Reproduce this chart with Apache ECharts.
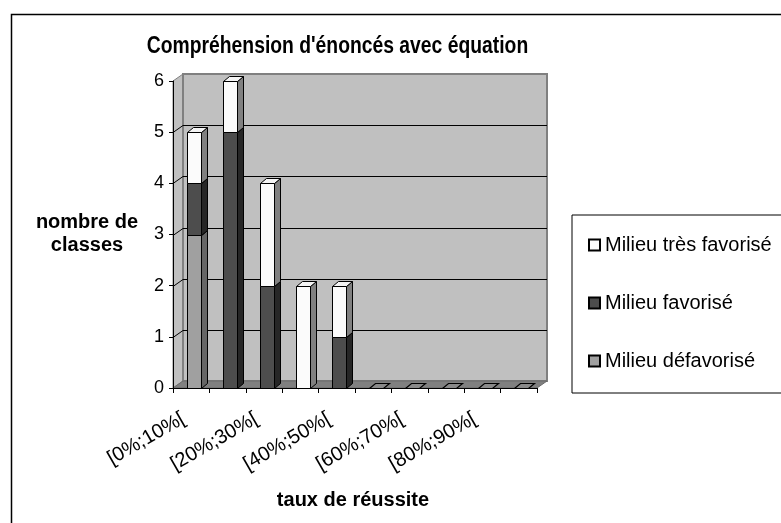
<!DOCTYPE html>
<html>
<head>
<meta charset="utf-8">
<script src="https://cdn.jsdelivr.net/npm/echarts@6/dist/echarts.min.js"></script>
<style>
  html, body { margin: 0; padding: 0; background: #fff; }
  #chart { width: 781px; height: 523px; }
</style>
</head>
<body>
<div id="chart"></div>
<script>
// Tranches de taux de réussite (axe horizontal)
const categories = ['[0%;10%[', '[10%;20%[', '[20%;30%[', '[30%;40%[', '[40%;50%[',
                    '[50%;60%[', '[60%;70%[', '[70%;80%[', '[80%;90%[', '[90%;100%['];
// Nombre de classes par milieu
const milieuDefavorise   = [3, 0, 0, 0, 0, 0, 0, 0, 0, 0];
const milieuFavorise     = [1, 5, 2, 0, 1, 0, 0, 0, 0, 0];
const milieuTresFavorise = [1, 1, 2, 2, 1, 0, 0, 0, 0, 0];
// Graduations de l'axe vertical
const yTicks = [0, 1, 2, 3, 4, 5, 6];

const FONT = 'Liberation Sans, Arial, sans-serif';

// Profondeur des parois et des colonnes (effet 3D)
const WALL_DX = 10, WALL_DY = -7;
const BAR_DX = 6, BAR_DY = -5;

const stackDefs = [
  { name: 'Milieu défavorisé', values: milieuDefavorise, front: '#a0a0a0', side: '#666666', top: '#b4b4b4' },
  { name: 'Milieu favorisé', values: milieuFavorise, front: '#4d4d4d', side: '#262626', top: '#5a5a5a' },
  { name: 'Milieu très favorisé', values: milieuTresFavorise, front: '#fbfbfb', side: '#808080', top: '#f4f4f4' }
];

// Empilement : [catégorie, base, sommet]
const bases = categories.map(() => 0);
const stacked = stackDefs.map(def => {
  const rows = [];
  def.values.forEach((v, i) => {
    if (v > 0) rows.push([i, bases[i], bases[i] + v]);
    bases[i] += v;
  });
  return rows;
});
// Catégories vides : seule la face supérieure apparaît au sol
const emptyCats = bases.map((t, i) => [i, t]).filter(d => d[1] === 0).map(d => [d[0], 0, 0]);

function barGeometry(api) {
  const cat = api.value(0);
  const b = api.coord([cat, api.value(1)]);
  const t = api.coord([cat, api.value(2)]);
  const bw = Math.round(api.size([1, 0])[0] * 0.385);
  const x0 = Math.round(b[0] - bw / 2 + 2.5) + 0.5;
  return { x0, bw, yb: Math.round(b[1]) + 0.5, yt: Math.round(t[1]) + 0.5 };
}

function boxRenderer(def) {
  return function (params, api) {
    const g = barGeometry(api);
    const s = { stroke: '#000', lineWidth: 1, lineJoin: 'miter' };
    return {
      type: 'group',
      children: [
        { type: 'polygon', shape: { points: [[g.x0 + g.bw, g.yt], [g.x0 + g.bw + BAR_DX, g.yt + BAR_DY],
            [g.x0 + g.bw + BAR_DX, g.yb + BAR_DY], [g.x0 + g.bw, g.yb]] },
          style: Object.assign({ fill: def.side }, s) },
        { type: 'polygon', shape: { points: [[g.x0, g.yt], [g.x0 + BAR_DX, g.yt + BAR_DY],
            [g.x0 + g.bw + BAR_DX, g.yt + BAR_DY], [g.x0 + g.bw, g.yt]] },
          style: Object.assign({ fill: def.top }, s) },
        { type: 'rect', shape: { x: g.x0, y: g.yt, width: g.bw, height: g.yb - g.yt },
          style: Object.assign({ fill: def.front }, s) }
      ]
    };
  };
}

function floorMarkRenderer(params, api) {
  const g = barGeometry(api);
  return {
    type: 'polygon',
    shape: { points: [[g.x0, g.yb], [g.x0 + BAR_DX, g.yb + BAR_DY], [g.x0 + g.bw + BAR_DX, g.yb + BAR_DY], [g.x0 + g.bw, g.yb]] },
    style: { fill: '#8a8a8a', stroke: '#000', lineWidth: 1.2 }
  };
}

// Parois gauche, fond et sol avec le quadrillage
function wallsRenderer(params, api) {
  const cs = params.coordSys;
  const L = cs.x, R = cs.x + cs.width, T = cs.y, B = cs.y + cs.height;
  const children = [
    { type: 'polygon', shape: { points: [[L, B], [L, T], [L + WALL_DX, T + WALL_DY], [L + WALL_DX, B + WALL_DY]] },
      style: { fill: '#c0c0c0', stroke: '#808080', lineWidth: 1 } },
    { type: 'rect', shape: { x: L + WALL_DX, y: T + WALL_DY, width: R - L, height: B - T } ,
      style: { fill: '#c0c0c0', stroke: '#808080', lineWidth: 2 } },
    { type: 'polygon', shape: { points: [[L, B], [R, B], [R + WALL_DX, B + WALL_DY], [L + WALL_DX, B + WALL_DY]] },
      style: { fill: '#808080', stroke: '#6a6a6a', lineWidth: 1 } }
  ];
  yTicks.forEach(v => {
    if (v === 0 || v === yTicks[yTicks.length - 1]) return;
    const y = Math.round(api.coord([0, v])[1]) + 0.5;
    children.push({ type: 'polyline',
      shape: { points: [[L, y], [L + WALL_DX, y + WALL_DY], [R + WALL_DX, y + WALL_DY]] },
      style: { stroke: '#000', lineWidth: 1, fill: null } });
  });
  return { type: 'group', children };
}

const chart = echarts.init(document.getElementById('chart'), null, { renderer: 'canvas' });

const series = [
  { type: 'custom', name: 'parois', renderItem: wallsRenderer, data: [[0, 0, 0]], z: 1, silent: true }
];
stackDefs.forEach((def, k) => {
  series.push({
    type: 'custom', name: def.name, renderItem: boxRenderer(def), data: stacked[k], z: 3,
    itemStyle: { color: def.front, borderColor: '#000', borderWidth: 1 },
    encode: { x: 0, y: [1, 2] }
  });
});
series.push({ type: 'custom', name: 'vide', renderItem: floorMarkRenderer, data: emptyCats, z: 2, silent: true,
  encode: { x: 0, y: [1, 2] } });

chart.setOption({
  animation: false,
  textStyle: { fontFamily: FONT },
  title: [
    { text: 'nombre de\nclasses', left: 87, top: 211, textAlign: 'center', padding: 0,
      textStyle: { fontFamily: FONT, fontWeight: 'bold', fontSize: 20, lineHeight: 23, color: '#000' } },
    { text: 'taux de réussite', left: 353, top: 490, textAlign: 'center', padding: 0,
      textStyle: { fontFamily: FONT, fontWeight: 'bold', fontSize: 20, color: '#000' } }
  ],
  graphic: [
    { type: 'rect', left: 9, top: 12, shape: { width: 800, height: 540 }, z: -10,
      style: { fill: 'none', stroke: '#000', lineWidth: 1.5 } },
    // Titre principal, police étroite et haute
    { type: 'text', x: 337.5, y: 47, scaleX: 0.84, z: 10,
      style: { text: "Compréhension d'énoncés avec équation", x: 0, y: 0,
        align: 'center', verticalAlign: 'middle',
        font: 'bold 23px ' + FONT, fill: '#000' } }
  ],
  legend: {
    data: ['Milieu très favorisé', 'Milieu favorisé', 'Milieu défavorisé'],
    orient: 'vertical', left: 572, top: 215,
    padding: [20, 30, 22, 16], itemGap: 38,
    itemWidth: 11, itemHeight: 11, icon: 'rect',
    borderColor: '#000', borderWidth: 1, backgroundColor: '#fff',
    textStyle: { fontFamily: FONT, fontSize: 20, color: '#000' },
    selectedMode: false
  },
  grid: { left: 173, top: 81, width: 364, height: 307 },
  xAxis: {
    type: 'category', data: categories, z: 5,
    axisLine: { lineStyle: { color: '#000', width: 1 } },
    axisTick: { show: true, interval: 0, length: 5, lineStyle: { color: '#000' } },
    axisLabel: { interval: 1, rotate: 30, fontSize: 20, color: '#000', fontFamily: FONT, margin: 25,
      padding: [0, 9, 0, 0] },
    splitLine: { show: false }
  },
  yAxis: {
    type: 'value', min: 0, max: 6, interval: 1, z: 5,
    axisLine: { show: true, lineStyle: { color: '#000', width: 1 } },
    axisTick: { show: true, length: 4, lineStyle: { color: '#000' } },
    axisLabel: { fontSize: 18, color: '#000', fontFamily: FONT, margin: 9 },
    splitLine: { show: false }
  },
  series
});
</script>
</body>
</html>
